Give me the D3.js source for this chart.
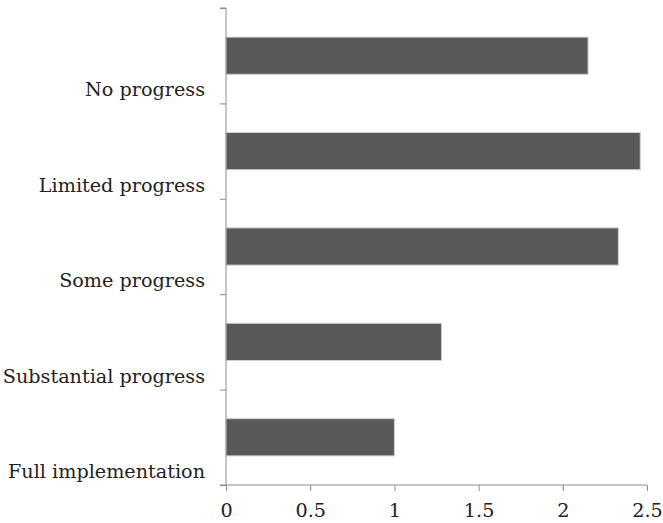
<!DOCTYPE html>
<html>
<head>
<meta charset="utf-8">
<script src="https://cdn.jsdelivr.net/npm/d3@7"></script>
<style>
  body { margin: 0; background: #fff; }
  svg { display: block; }
  text { font-family: "DejaVu Serif", serif; fill: #222; }
</style>
</head>
<body>
<svg id="chart" width="663" height="523"></svg>
<script>
const categories = ["No progress", "Limited progress", "Some progress", "Substantial progress", "Full implementation"];
const values = [2.15, 2.46, 2.33, 1.28, 1.0];
const xTicks = [0, 0.5, 1, 1.5, 2, 2.5];
const xTickLabels = ["0", "0.5", "1", "1.5", "2", "2.5"];

(function () {
const svg = d3.select("#chart");
const mLeft = 226, mRight = 647, mTop = 8, mBottom = 485;
const fs = 19.2;

const x = d3.scaleLinear().domain([0, 2.5]).range([mLeft, mRight]);
const y = d3.scaleBand().domain(categories).range([mTop, mBottom]).paddingInner(0.61).paddingOuter(0.305);
const yEdge = d3.scaleLinear().domain([0, categories.length]).range([mTop, mBottom]);

// bars
svg.append("g").selectAll("rect").data(values).join("rect")
  .attr("x", x(0))
  .attr("y", (d, i) => y(categories[i]))
  .attr("width", d => x(d) - x(0))
  .attr("height", y.bandwidth())
  .attr("fill", "#595959")
  .attr("stroke", "#cfcfcf")
  .attr("stroke-width", 1);

// y axis line + ticks
const yAxis = d3.axisLeft(yEdge).tickValues(d3.range(0, categories.length + 1)).tickSize(6).tickFormat("");
const gy = svg.append("g").attr("transform", `translate(${mLeft},0)`).call(yAxis);
gy.select(".domain").attr("stroke", "#8c8c8c").attr("d", `M-6,${mTop}H0V${mBottom}`);
gy.selectAll(".tick line").attr("stroke", "#8c8c8c");

// category labels
svg.append("g").selectAll("text").data(categories).join("text")
  .attr("x", 205)
  .attr("y", (d, i) => yEdge(i + 1) - 7)
  .attr("text-anchor", "end")
  .attr("font-size", fs)
  .text(d => d);

// x axis
const xAxis = d3.axisBottom(x).tickValues(xTicks).tickSize(6).tickSizeOuter(0).tickFormat((d, i) => xTickLabels[i]).tickPadding(12);
const gx = svg.append("g").attr("transform", `translate(0,${mBottom})`).call(xAxis);
gx.select(".domain").attr("stroke", "#8c8c8c").attr("d", `M${mLeft - 6},0H${mRight}`);
gx.selectAll(".tick line").attr("stroke", "#8c8c8c");
gx.selectAll(".tick text").attr("font-size", fs).attr("font-family", "DejaVu Serif, serif").attr("fill", "#222");
})();
</script>
</body>
</html>
